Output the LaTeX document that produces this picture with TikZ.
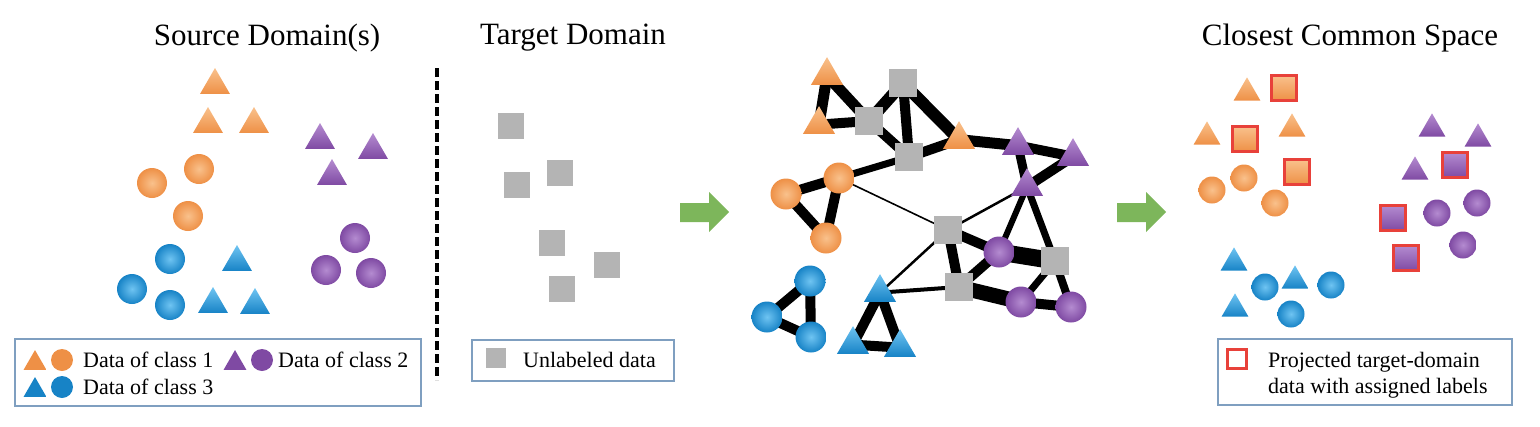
\documentclass[tikz,border=0pt]{standalone}
\usepackage{fontspec}
\setmainfont{Liberation Serif}
\usetikzlibrary{shapes.geometric,backgrounds}
\definecolor{corange}{HTML}{EE9046}
\definecolor{corangeL}{HTML}{F9C18C}
\definecolor{cpurple}{HTML}{7F4AA3}
\definecolor{cpurpleL}{HTML}{B48BD0}
\definecolor{cblue}{HTML}{1783C6}
\definecolor{cblueL}{HTML}{6FC4F2}
\definecolor{cgray}{HTML}{B4B4B4}
\definecolor{cred}{HTML}{E8413A}
\definecolor{cgreen}{HTML}{7DB65B}
\definecolor{cframe}{HTML}{7F9FC0}
\begin{document}
\begin{tikzpicture}[x=1pt,y=-1pt,
  tri/.style={regular polygon, regular polygon sides=3, minimum size=#1, inner sep=0pt, yshift=-#1/8},
  tri/.default=34.6pt,
  ball/.style={circle, minimum size=#1, inner sep=0pt},
  ball/.default=30pt,
  sq/.style={rectangle, minimum size=#1, inner sep=0pt},
  sq/.default=26pt,
  otri/.style={tri=#1, top color=corangeL, bottom color=corange},
  ptri/.style={tri=#1, top color=cpurpleL, bottom color=cpurple},
  btri/.style={tri=#1, top color=cblueL, bottom color=cblue},
  otri/.default=34.6pt, ptri/.default=34.6pt, btri/.default=34.6pt,
  oball/.style={ball=#1, inner color=corangeL, outer color=corange},
  pball/.style={ball=#1, inner color=cpurpleL, outer color=cpurple},
  bball/.style={ball=#1, inner color=cblueL, outer color=cblue},
  oball/.default=30pt, pball/.default=30pt, bball/.default=30pt,
  gsq/.style={sq=#1, fill=cgray},
  gsq/.default=26pt,
  osq/.style={sq=25pt, top color=corangeL, bottom color=corange, draw=cred, line width=2.5pt},
  psq/.style={sq=25pt, top color=cpurpleL, bottom color=cpurple, draw=cred, line width=2.5pt},
  ed/.style={line width=#1, draw=black},
  ed/.default=10pt,
  title/.style={font=\fontsize{31}{36}\selectfont, inner sep=0pt},
  legtext/.style={font=\fontsize{22}{26}\selectfont, inner sep=0pt, anchor=west, align=left},
  legbox/.style={draw=cframe, line width=1.3pt, rectangle, inner sep=0pt},
  arrowfill/.style={fill=cgreen, draw=none}
]
\useasboundingbox (0,0) rectangle (1540,426);

% ---------- titles ----------
\node[title] (t1) at (267,38) {Source Domain(s)};
\node[title] (t2) at (573,38) {Target Domain};
\node[title] (t3) at (1350,38) {Closest Common Space};

% ---------- source domain ----------
\node[otri] (s1) at (215,81) {};
\node[otri] (s2) at (208,120) {};
\node[otri] (s3) at (254,120) {};
\node[ptri] (s4) at (320,136) {};
\node[ptri] (s5) at (373,146) {};
\node[ptri] (s6) at (332,172) {};
\node[oball] (s7) at (152,183) {};
\node[oball] (s8) at (199,169) {};
\node[oball] (s9) at (188,216) {};
\node[bball] (s10) at (170,259) {};
\node[bball] (s11) at (132,289) {};
\node[bball] (s12) at (170,305) {};
\node[btri] (s13) at (237,258) {};
\node[btri] (s14) at (213,300) {};
\node[btri] (s15) at (255,301) {};
\node[pball] (s16) at (355,238) {};
\node[pball] (s17) at (326,270) {};
\node[pball] (s18) at (371,273) {};

% legend 1
\node[legbox, minimum width=406pt, minimum height=67pt] (L1) at (218,372.5) {};
\node[otri=26.5pt, top color=corange] (l1a) at (35,360) {};
\node[ball=22pt, fill=corange] (l1b) at (62,360) {};
\node[legtext] (l1t) at (83,360) {Data of class 1};
\node[ptri=26.5pt, top color=cpurple] (l2a) at (235,360) {};
\node[ball=22pt, fill=cpurple] (l2b) at (262,360) {};
\node[legtext] (l2t) at (278,360) {Data of class 2};
\node[btri=26.5pt, top color=cblue] (l3a) at (35,387) {};
\node[ball=22pt, fill=cblue] (l3b) at (62,387) {};
\node[legtext] (l3t) at (83,387) {Data of class 3};

% dashed separator
\coordinate (d1) at (437,68);
\coordinate (d2) at (437,380);
\draw[line width=4.5pt, dash pattern=on 9pt off 4pt] (d1) -- (d2);

% ---------- target domain ----------
\node[gsq] (u1) at (511,126) {};
\node[gsq] (u2) at (517,185) {};
\node[gsq] (u3) at (560,173) {};
\node[gsq] (u4) at (552,243) {};
\node[gsq] (u5) at (607,265) {};
\node[gsq] (u6) at (562,289) {};
\node[legbox, minimum width=202pt, minimum height=41pt] (L2) at (573,360.5) {};
\node[gsq=20pt] (l4a) at (496,358) {};
\node[legtext] (l4t) at (523,360) {Unlabeled data};

% ---------- arrows ----------
\fill[arrowfill] (680,203) -- (709,203) -- (709,192) -- (729,212) -- (709,232) -- (709,222) -- (680,222) -- cycle;
\fill[arrowfill] (1117,203) -- (1146,203) -- (1146,192) -- (1166,212) -- (1146,232) -- (1146,222) -- (1117,222) -- cycle;

% ---------- graph ----------
\node[otri=37pt] (OT1) at (827,71) {};
\node[otri=37pt] (OT2) at (819,120) {};
\node[gsq=28pt] (S1) at (903,83) {};
\node[gsq=28pt] (S2) at (869,121) {};
\node[gsq=28pt] (S3) at (909,157) {};
\node[otri=37pt] (OT3) at (959,135) {};
\node[ptri=37pt] (PT1) at (1018,141) {};
\node[ptri=37pt] (PT2) at (1073,152) {};
\node[ptri=37pt] (PT3) at (1027,182) {};
\node[oball=31pt] (OC1) at (839,178) {};
\node[oball=31pt] (OC2) at (786,194) {};
\node[oball=31pt] (OC3) at (826,238) {};
\node[gsq=28pt] (S4) at (948,230) {};
\node[pball=31pt] (PC1) at (999,252) {};
\node[gsq=28pt] (S5) at (1055,261) {};
\node[gsq=28pt] (S6) at (959,287) {};
\node[pball=31pt] (PC2) at (1021,302) {};
\node[pball=31pt] (PC3) at (1071,307) {};
\node[bball=31pt] (BC1) at (810,281) {};
\node[bball=31pt] (BC2) at (767,317) {};
\node[bball=31pt] (BC3) at (811,337) {};
\node[btri=37pt] (BT1) at (880,288) {};
\node[btri=37pt] (BT2) at (853,340) {};
\node[btri=37pt] (BT3) at (900,343) {};

\begin{scope}[on background layer]
\draw[ed=11pt] (OT1.center) -- (OT2.center);
\draw[ed=11pt] (OT1.center) -- (S2.center);
\draw[ed=10pt] (OT2.center) -- (S2.center);
\draw[ed=12pt] (S2.center) -- (S1.center);
\draw[ed=10pt] (S1.center) -- (S3.center);
\draw[ed=10pt] (S2.center) -- (S3.center);
\draw[ed=12pt] (S1.center) -- (OT3.center);
\draw[ed=10pt] (S3.center) -- (OT3.center);
\draw[ed=7pt] (S3.center) -- (OC1.center);
\draw[ed=11pt] (OT3.center) -- (PT1.center);
\draw[ed=10pt] (PT1.center) -- (PT2.center);
\draw[ed=9pt] (PT1.center) -- (PT3.center);
\draw[ed=10pt] (PT2.center) -- (PT3.center);
\draw[ed=10pt] (OC1.center) -- (OC2.center);
\draw[ed=10pt] (OC1.center) -- (OC3.center);
\draw[ed=10pt] (OC2.center) -- (OC3.center);
\draw[ed=1.6pt] (OC1.center) -- (S4.center);
\draw[ed=2.5pt] (S4.center) -- (PT3.center);
\draw[ed=2.5pt] (S4.center) -- (BT1.center);
\draw[ed=10pt] (S4.center) -- (PC1.center);
\draw[ed=10pt] (S4.center) -- (S6.center);
\draw[ed=6pt] (PT3.center) -- (PC1.center);
\draw[ed=7pt] (PT3.center) -- (S5.center);
\draw[ed=17pt] (PC1.center) -- (S5.center);
\draw[ed=10pt] (PC1.center) -- (S6.center);
\draw[ed=4pt] (S6.center) -- (BT1.center);
\draw[ed=15pt] (S6.center) -- (PC2.center);
\draw[ed=10pt] (PC2.center) -- (PC3.center);
\draw[ed=7pt] (PC2.center) -- (S5.center);
\draw[ed=8pt] (S5.center) -- (PC3.center);
\draw[ed=10pt] (BC1.center) -- (BC2.center);
\draw[ed=10pt] (BC1.center) -- (BC3.center);
\draw[ed=10pt] (BC2.center) -- (BC3.center);
\draw[ed=10pt] (BT1.center) -- (BT2.center);
\draw[ed=10pt] (BT1.center) -- (BT3.center);
\draw[ed=10pt] (BT2.center) -- (BT3.center);
\end{scope}

% ---------- closest common space ----------
\node[otri=31pt] (r1) at (1247,89) {};
\node[osq] (r2) at (1284,88) {};
\node[otri=31pt] (r3) at (1207,133) {};
\node[osq] (r4) at (1245,139) {};
\node[otri=31pt] (r5) at (1292,125) {};
\node[osq] (r6) at (1297,172) {};
\node[oball=27pt] (r7) at (1212,190) {};
\node[oball=27pt] (r8) at (1244,178) {};
\node[oball=27pt] (r9) at (1275,203) {};
\node[ptri=31pt] (r10) at (1432,125) {};
\node[ptri=31pt] (r11) at (1478,135) {};
\node[ptri=31pt] (r12) at (1415,168) {};
\node[psq] (r13) at (1455,165) {};
\node[psq] (r14) at (1393,218) {};
\node[psq] (r15) at (1406,258) {};
\node[pball=27pt] (r16) at (1437,213) {};
\node[pball=27pt] (r17) at (1477,203) {};
\node[pball=27pt] (r18) at (1463,245) {};
\node[btri=31pt] (r19) at (1234,259) {};
\node[btri=31pt] (r20) at (1235,305) {};
\node[btri=31pt] (r21) at (1295,277) {};
\node[bball=27pt] (r22) at (1265,287) {};
\node[bball=27pt] (r23) at (1331,285) {};
\node[bball=27pt] (r24) at (1291,314) {};

\node[legbox, minimum width=294pt, minimum height=66pt] (L3) at (1365,372) {};
\node[sq=19pt, draw=cred, line width=2.2pt, fill=white] (l5a) at (1237,359) {};
\node[legtext] (l5t) at (1268,375) {Projected target-domain\\data with assigned labels};
\end{tikzpicture}
\end{document}
